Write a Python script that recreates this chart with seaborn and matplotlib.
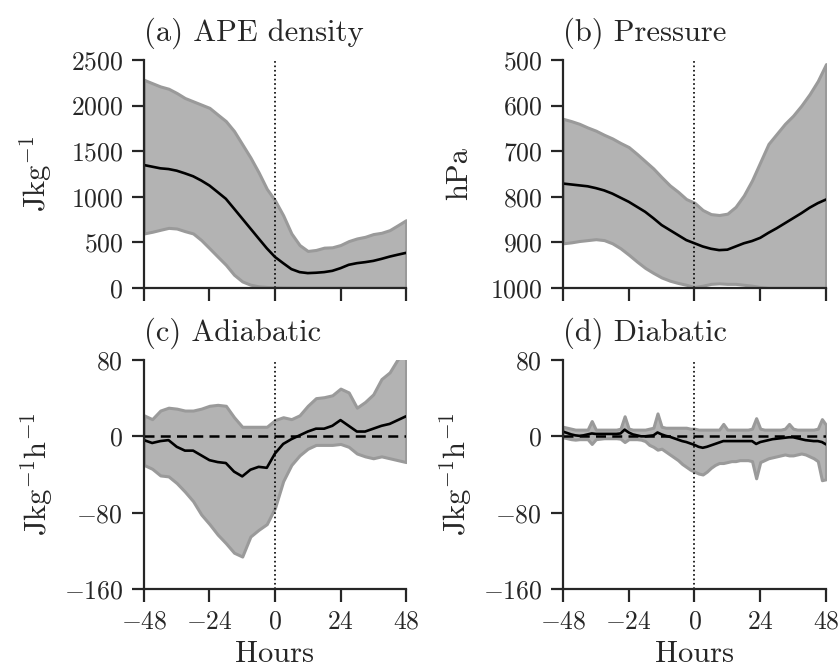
import numpy as np
import pandas as pd
import matplotlib
matplotlib.use("Agg")
import matplotlib.pyplot as plt
import seaborn as sns

# hours relative to the event
hours = np.arange(-48, 49, 3)
hours_d = np.arange(-48, 48.1, 1.5)

# (a) APE density
ape_mean = [1348, 1330, 1312, 1304, 1286, 1257, 1225, 1178, 1123, 1051, 978, 870, 761, 652, 543, 435, 340,
            272, 207, 174, 163, 167, 174, 188, 217, 254, 272, 283, 297, 319, 344, 365, 385]
ape_hi = [2283, 2246, 2210, 2185, 2138, 2083, 2047, 2011, 1975, 1902, 1830, 1721, 1576, 1431, 1268, 1087, 960,
          797, 598, 471, 406, 417, 442, 446, 471, 514, 543, 561, 591, 605, 634, 688, 743]
ape_lo = [598, 616, 638, 659, 652, 623, 598, 525, 435, 344, 254, 145, 72, 36, 18, 11, 7,
          4, 3, 2, 2, 2, 2, 2, 2, 2, 2, 2, 2, 2, 2, 2, 2]

# (b) Pressure
p_mean = [771, 773, 775, 777, 781, 786, 793, 802, 811, 822, 833, 847, 862, 873, 884, 895, 902,
          909, 914, 917, 916, 909, 902, 897, 890, 879, 869, 858, 847, 836, 824, 814, 806]
p_hi = [629, 634, 640, 648, 655, 664, 672, 682, 691, 706, 722, 738, 757, 775, 789, 805, 813,
        829, 838, 840, 837, 822, 797, 764, 724, 684, 662, 640, 622, 600, 575, 546, 509]
p_lo = [902, 900, 897, 895, 893, 895, 902, 913, 927, 942, 956, 967, 977, 984, 989, 993, 998,
        995, 991, 990, 991, 991, 993, 995, 998, 1000, 1000, 1000, 1000, 1000, 1000, 1000, 1000]

# (c) Adiabatic
adi_mean = [-4, -7, -5, -4, -11, -15, -15, -20, -25, -27, -28, -37, -42, -35, -32, -33, -18,
            -8, -3, 1, 5, 8, 8, 11, 17, 11, 5, 5, 8, 11, 13, 17, 21]
adi_hi = [22, 18, 27, 30, 29, 27, 27, 29, 32, 33, 32, 20, 10, 10, 10, 10, 17,
          20, 18, 22, 32, 40, 41, 43, 50, 46, 30, 36, 44, 60, 67, 81, 88]
adi_lo = [-30, -34, -41, -42, -49, -58, -68, -82, -92, -103, -112, -122, -126, -105, -98, -92, -75,
          -47, -30, -20, -13, -9, -9, -9, -8, -11, -18, -21, -23, -21, -23, -25, -27]

# (d) Diabatic (1.5 h steps)
dia_mean = [4.9, 3.5, 2, 1, 0.5, 1, 2, 3, 2.5, 2.5, 2.5, 2.5, 2.5, 2.5, 3, 7, 4, 2, 1, 0, 0, 0.5, 1, 4, 2,
            0.5, -0.5, -2, -3.5, -5, -6, -7.5, -9, -11, -12, -11, -9.5, -8, -6.5, -5, -5, -5, -5, -5, -5,
            -5, -5, -8, -6, -5, -4, -3, -2.5, -2, -1.5, -1, -1, -2, -3, -4, -4.5, -5, -5, -6, -8.5]
dia_hi = [10, 9, 8, 7, 7, 7, 7, 16, 7, 7, 7, 7, 7, 7, 8, 21, 8, 7, 7, 7, 7, 8, 9, 24, 10,
          9, 9, 9, 9, 9, 9, 8, 8, 7, 7, 7, 7, 7, 7, 13, 7, 7, 7, 7, 7,
          7, 8, 19, 8, 7, 7, 7, 7, 7, 8, 13, 8, 7, 7, 7, 7, 7, 8, 18, 12]
dia_lo = [-1, -2, -3, -3.5, -3, -3, -3, -8, -3, -2.5, -2, -2, -2, -2, -2.5, -6, -3, -3, -3, -3.5, -5, -9, -11, -14, -13,
          -16, -19, -22, -25, -29, -32, -35, -37, -39, -40, -37, -33, -30, -28, -28, -27, -26, -26, -25, -25,
          -25, -26, -44, -27, -25, -23, -22, -21, -20, -19, -20, -20, -19, -18, -19, -21, -23, -26, -46, -45]

sns.set_style("ticks")
plt.rcParams["font.family"] = ["cmr10", "DejaVu Serif"]
plt.rcParams["mathtext.fontset"] = "cm"
plt.rcParams["axes.formatter.use_mathtext"] = True

fig = plt.figure(figsize=(8.38, 6.68), dpi=100)
pos = {
    "a": [0.1718, 0.5689, 0.3127, 0.3413],
    "b": [0.6718, 0.5689, 0.3139, 0.3413],
    "c": [0.1718, 0.1183, 0.3127, 0.3428],
    "d": [0.6718, 0.1183, 0.3139, 0.3428],
}

panels = [
    ("a", "(a) APE density", hours, ape_mean, ape_lo, ape_hi, r"Jkg$^{-1}$"),
    ("b", "(b) Pressure", hours, p_mean, p_lo, p_hi, "hPa"),
    ("c", "(c) Adiabatic", hours, adi_mean, adi_lo, adi_hi, r"Jkg$^{-1}$h$^{-1}$"),
    ("d", "(d) Diabatic", hours_d, dia_mean, dia_lo, dia_hi, r"Jkg$^{-1}$h$^{-1}$"),
]

for key, title, x, mean, lo, hi, ylab in panels:
    ax = fig.add_axes(pos[key])
    df = pd.DataFrame({"Hours": x, "mean": mean, "lo": lo, "hi": hi})
    ax.fill_between(df["Hours"], df["lo"], df["hi"], facecolor="#b3b3b3", edgecolor="#9a9a9a", linewidth=2.2)
    sns.lineplot(data=df, x="Hours", y="mean", ax=ax, color="black", linewidth=1.9)
    ax.axvline(0, color="black", linestyle=":", linewidth=1.2)
    ax.set_xlim(-48, 48)
    ax.set_xticks([-48, -24, 0, 24, 48])
    if key == "a":
        ax.set_ylim(0, 2500)
        ax.set_yticks([0, 500, 1000, 1500, 2000, 2500])
    elif key == "b":
        ax.set_ylim(1000, 500)
        ax.set_yticks([500, 600, 700, 800, 900, 1000])
    else:
        ax.axhline(0, color="black", linestyle=(0, (4, 2.5)), linewidth=1.8)
        ax.set_ylim(-160, 80)
        ax.set_yticks([-160, -80, 0, 80])
    if key in ("a", "b"):
        ax.set_xticklabels([])
        ax.set_xlabel("")
        ax.set_ylabel(ylab, fontsize=22, labelpad=12)
    else:
        ax.set_xlabel("Hours", fontsize=22, labelpad=5)
        ax.set_ylabel(ylab, fontsize=22, labelpad=6)
    ax.set_title(title, fontsize=22, loc="left", pad=14)
    ax.tick_params(axis="both", labelsize=18.5, length=9, width=1.6, direction="out", pad=6)
    for s in ("left", "bottom"):
        ax.spines[s].set_linewidth(1.6)
    sns.despine(ax=ax)

fig.savefig("out.png", dpi=100)
